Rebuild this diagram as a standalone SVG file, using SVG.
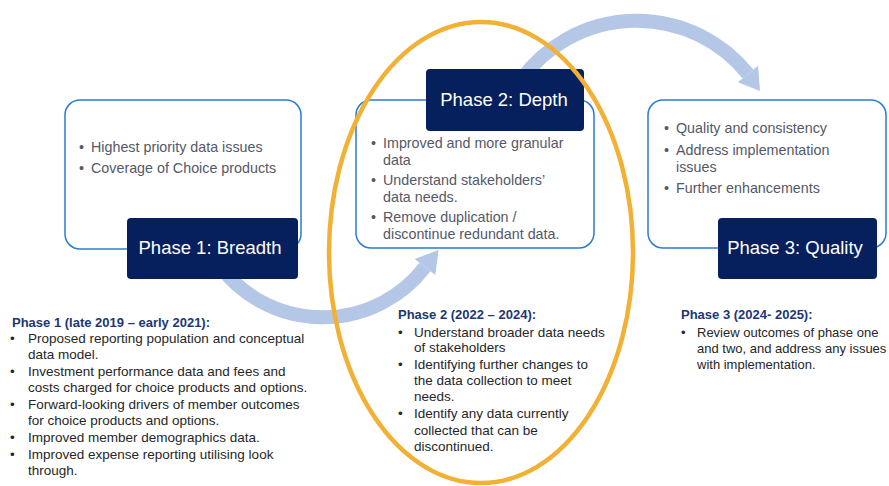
<svg xmlns="http://www.w3.org/2000/svg" width="889" height="486" viewBox="0 0 889 486">
  <style>
    .frame { fill: #ffffff; stroke: #2a7bd5; stroke-width: 1.5; }
    .label { fill: #06205e; }
    .label-text { font-family: "Liberation Sans", Arial, sans-serif; font-size: 18.5px; fill: #ffffff; text-anchor: middle; }
    .point { font-family: "Liberation Sans", Arial, sans-serif; font-size: 14.3px; fill: #555866; }
    .note-head { font-family: "Liberation Sans", Arial, sans-serif; font-size: 13px; font-weight: bold; fill: #1c3773; }
    .note { font-family: "Liberation Sans", Arial, sans-serif; font-size: 13.5px; fill: #262626; }
    .note.tight { font-size: 13px; }
    .flow { fill: none; stroke: #b4c7e7; stroke-width: 14; }
    .flow-head { fill: #b4c7e7; }
    .focus { fill: none; stroke: #f2b134; stroke-width: 4.5; }
  </style>

  <!-- curved flow arrows between phases -->
  <g id="connectors">
    <path class="flow" d="M 219 265 A 129 129 0 0 0 425 267"/>
    <polygon class="flow-head" points="438.5,250 435.3,275 414.7,259"/>
    <path class="flow" d="M 521 80 A 142.7 142.7 0 0 1 748 74"/>
    <polygon class="flow-head" points="760,91 758.1,65.8 737.9,82.2"/>
  </g>

  <!-- Phase 1 -->
  <g id="phase1">
    <rect class="frame" x="65" y="100" width="236" height="149" rx="15"/>
    <text class="point" x="79" y="152">•</text>
    <text class="point" x="91" y="152">Highest priority data issues</text>
    <text class="point" x="79" y="173">•</text>
    <text class="point" x="91" y="173">Coverage of Choice products</text>
    <rect class="label" x="127" y="218" width="171" height="61" rx="4"/>
    <text class="label-text" x="210" y="254">Phase 1: Breadth</text>
  </g>

  <!-- Phase 2 -->
  <g id="phase2">
    <rect class="frame" x="356" y="100" width="238" height="148" rx="15"/>
    <rect class="label" x="426" y="69" width="158" height="62" rx="4"/>
    <text class="label-text" x="504" y="106">Phase 2: Depth</text>
    <text class="point" x="371" y="148">•</text>
    <text class="point" x="383" y="148">Improved and more granular</text>
    <text class="point" x="383" y="165">data</text>
    <text class="point" x="371" y="185">•</text>
    <text class="point" x="383" y="185">Understand stakeholders’</text>
    <text class="point" x="383" y="202">data needs.</text>
    <text class="point" x="371" y="222">•</text>
    <text class="point" x="383" y="222">Remove duplication /</text>
    <text class="point" x="383" y="239">discontinue redundant data.</text>
  </g>

  <!-- Phase 3 -->
  <g id="phase3">
    <rect class="frame" x="648" y="100" width="238" height="148" rx="15"/>
    <text class="point" x="664" y="133">•</text>
    <text class="point" x="676" y="133">Quality and consistency</text>
    <text class="point" x="664" y="155">•</text>
    <text class="point" x="676" y="155">Address implementation</text>
    <text class="point" x="676" y="172">issues</text>
    <text class="point" x="664" y="193">•</text>
    <text class="point" x="676" y="193">Further enhancements</text>
    <rect class="label" x="718" y="218" width="159" height="61" rx="4"/>
    <text class="label-text" x="795" y="254">Phase 3: Quality</text>
  </g>

  <!-- Phase 1 detail notes -->
  <g id="phase1-notes">
    <text class="note-head" x="12" y="327">Phase 1 (late 2019 – early 2021):</text>
    <text class="note" x="10" y="343">•</text>
    <text class="note" x="28" y="343">Proposed reporting population and conceptual</text>
    <text class="note" x="28" y="359">data model.</text>
    <text class="note" x="10" y="376">•</text>
    <text class="note" x="28" y="376">Investment performance data and fees and</text>
    <text class="note" x="28" y="392">costs charged for choice products and options.</text>
    <text class="note" x="10" y="409">•</text>
    <text class="note" x="28" y="409">Forward-looking drivers of member outcomes</text>
    <text class="note" x="28" y="425">for choice products and options.</text>
    <text class="note" x="10" y="442">•</text>
    <text class="note" x="28" y="442">Improved member demographics data.</text>
    <text class="note" x="10" y="459">•</text>
    <text class="note" x="28" y="459">Improved expense reporting utilising look</text>
    <text class="note" x="28" y="475">through.</text>
  </g>

  <!-- Phase 2 detail notes -->
  <g id="phase2-notes">
    <text class="note-head" x="398" y="319">Phase 2 (2022 – 2024):</text>
    <text class="note" x="398" y="337">•</text>
    <text class="note" x="414" y="337">Understand broader data needs</text>
    <text class="note" x="414" y="352">of stakeholders</text>
    <text class="note" x="398" y="369">•</text>
    <text class="note" x="414" y="369">Identifying further changes to</text>
    <text class="note" x="414" y="385">the data collection to meet</text>
    <text class="note" x="414" y="401">needs.</text>
    <text class="note" x="398" y="418">•</text>
    <text class="note" x="414" y="418">Identify any data currently</text>
    <text class="note" x="414" y="435">collected that can be</text>
    <text class="note" x="414" y="451">discontinued.</text>
  </g>

  <!-- Phase 3 detail notes -->
  <g id="phase3-notes">
    <text class="note-head" x="681" y="319">Phase 3 (2024- 2025):</text>
    <text class="note tight" x="681" y="337">•</text>
    <text class="note tight" x="697" y="337">Review outcomes of phase one</text>
    <text class="note tight" x="697" y="353">and two, and address any issues</text>
    <text class="note tight" x="697" y="369">with implementation.</text>
  </g>

  <!-- highlight ring around the current phase -->
  <g id="phase2-highlight">
    <ellipse class="focus" cx="481" cy="252.5" rx="152" ry="230.5"/>
  </g>
</svg>
